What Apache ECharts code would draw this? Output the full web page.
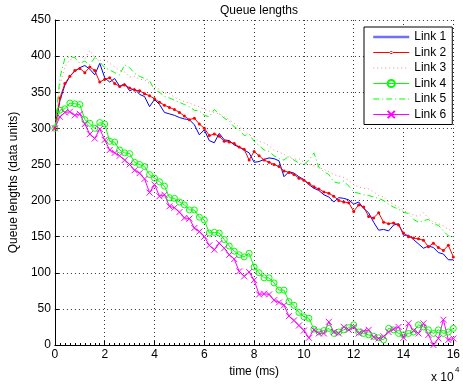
<!DOCTYPE html>
<html><head><meta charset="utf-8">
<script src="https://cdn.jsdelivr.net/npm/echarts@6/dist/echarts.min.js"></script>
<style>html,body{margin:0;padding:0;background:#fff}#c{width:463px;height:387px}</style>
</head><body><div id="c"></div>
<script>
const times = [0,2000,4000,6000,8000,10000,12000,14000,16000,18000,20000,22000,24000,26000,28000,30000,32000,34000,36000,38000,40000,42000,44000,46000,48000,50000,52000,54000,56000,58000,60000,62000,64000,66000,68000,70000,72000,74000,76000,78000,80000,82000,84000,86000,88000,90000,92000,94000,96000,98000,100000,102000,104000,106000,108000,110000,112000,114000,116000,118000,120000,122000,124000,126000,128000,130000,132000,134000,136000,138000,140000,142000,144000,146000,148000,150000,152000,154000,156000,158000,160000];
const link1 = [300,338,360,372,379,384,387,382,374,390,370,364,369,358,362,352,355,347,344,330,340,333,322,320,318,315,313,312,305,291,298,283,280,293,284,283,277,274,270,266,253,254,257,259,258,255,233,240,238,233,229,222,217,214,208,205,198,204,203,201,195,198,189,183,170,159,160,158,166,168,152,152,146,140,134,137,135,128,126,118,118];
const link2 = [300,342,362,372,380,383,377,385,380,364,368,370,362,358,360,356,353,352,348,345,341,336,332,329,326,322,317,312,314,306,300,290,292,289,282,281,279,274,271,256,268,262,256,253,250,247,241,239,236,231,228,224,219,216,212,210,206,200,198,197,185,194,191,178,176,183,170,168,169,166,155,150,148,147,145,136,141,135,131,138,122];
const link3 = [300,360,385,395,398,400,396,408,398,394,395,390,385,380,378,371,372,368,367,362,358,354,349,348,343,340,337,335,332,330,326,324,322,320,316,312,307,302,296,291,288,282,280,276,270,267,264,260,257,258,253,250,248,246,243,240,236,234,232,228,222,219,217,216,212,207,205,198,195,191,186,183,180,178,183,176,170,168,165,160,158];
const link4 = [300,325,327,335,334,333,312,307,300,308,306,282,281,270,266,265,253,250,247,236,231,226,220,204,203,198,194,187,187,177,173,155,156,155,146,137,130,125,122,127,108,100,93,93,86,76,76,60,55,45,39,37,22,18,20,23,16,18,21,24,28,18,16,14,12,10,7,23,21,16,14,16,18,28,25,21,16,21,16,18,23];
const link5 = [300,370,397,399,398,390,393,388,398,392,384,381,377,374,388,384,376,372,369,366,353,350,344,342,339,336,333,330,325,324,318,316,326,320,314,310,302,298,290,292,282,276,270,268,262,258,256,262,256,252,250,256,266,246,240,236,226,224,227,220,212,210,208,207,205,203,200,195,191,188,184,182,174,170,172,174,167,166,158,151,150];
const link6 = [300,316,322,323,318,320,306,292,286,299,284,270,266,262,256,250,242,238,230,211,222,206,208,192,190,184,176,175,162,157,150,138,132,141,134,125,119,102,95,101,90,70,71,70,62,59,55,40,34,27,20,10,21,16,16,32,18,16,25,21,25,16,19,21,11,9,12,18,22,25,10,30,20,16,30,14,0,9,35,7,9];
const seriesNames = ['Link 1','Link 2','Link 3','Link 4','Link 5','Link 6'];
const xTicks = [0,2,4,6,8,10,12,14,16];
const yTicks = [0,50,100,150,200,250,300,350,400,450];

const FONT = 'Liberation Sans, Arial, sans-serif';
function pair(vals){ return times.map((t,i)=>[t, vals[i]]); }
const chart = echarts.init(document.getElementById('c'), null, {renderer:'canvas'});
const XPATH = 'path://M0,0L10,10M10,0L0,10';
const DOTLINE = 'path://M0,0M36,9M0,4L36,4L36,5L0,5ZM16.5,4.5a1.5,1.5 0 1,0 3,0a1.5,1.5 0 1,0 -3,0Z';
const hide = {opacity:0};
chart.setOption({
  animation:false,
  backgroundColor:'#fff',
  title:{text:'Queue lengths', left:254, top:0, textAlign:'center',
    textStyle:{fontFamily:FONT,fontSize:12,fontWeight:'normal',color:'#000'}},
  grid:{left:48, top:20, right:2, bottom:42, containLabel:false},
  legend:{
    orient:'vertical', left:364, top:27, padding:[4,6,4,8],
    itemWidth:36, itemHeight:9, itemGap:3.5,
    borderColor:'#000', borderWidth:1, backgroundColor:'#fff',
    textStyle:{fontFamily:FONT,fontSize:12,color:'#000'},
    data:[
      {name:seriesNames[0], itemStyle:hide, lineStyle:{width:2.5,color:'#6f6fff'}},
      {name:seriesNames[1], icon:DOTLINE, itemStyle:{color:'#ff0000'}},
      {name:seriesNames[2], itemStyle:hide, lineStyle:{width:1}},
      {name:seriesNames[3], lineStyle:{width:1}},
      {name:seriesNames[4], itemStyle:hide, lineStyle:{width:1}},
      {name:seriesNames[5], lineStyle:{width:1}}
    ]
  },
  xAxis:{
    type:'value', min:0, max:160000, interval:20000,
    name:'time (ms)', nameLocation:'middle', nameGap:21,
    nameTextStyle:{fontFamily:FONT,fontSize:12,color:'#000'},
    axisLine:{lineStyle:{color:'#000',width:1}},
    axisTick:{inside:true,length:4,lineStyle:{color:'#000'}},
    minorTick:{show:true,splitNumber:10,length:2,lineStyle:{color:'#000'}},
    axisLabel:{fontFamily:FONT,fontSize:12,color:'#000',margin:4,
      formatter:v=>String(xTicks[Math.round(v/20000)])},
    splitLine:{show:true,lineStyle:{color:'#333',width:1,type:[1,3]}}
  },
  yAxis:{
    type:'value', min:0, max:450, interval:50,
    name:'Queue lengths (data units)', nameLocation:'middle', nameGap:33,
    nameTextStyle:{fontFamily:FONT,fontSize:12,color:'#000'},
    axisLine:{show:true,lineStyle:{color:'#000',width:1}},
    axisTick:{show:true,inside:true,length:4,lineStyle:{color:'#000'}},
    axisLabel:{fontFamily:FONT,fontSize:12,color:'#000',margin:4,
      formatter:v=>String(yTicks[Math.round(v/50)])},
    splitLine:{show:true,lineStyle:{color:'#333',width:1,type:[1,3]}}
  },
  graphic:[
    {type:'text', left:431, top:372, style:{text:'x 10', fontFamily:FONT, fontSize:12, fill:'#000'}},
    {type:'text', left:455, top:366, style:{text:'4', fontFamily:FONT, fontSize:8, fill:'#000'}}
  ],
  series:[
    {name:'Link 1', type:'line', data:pair(link1), symbol:'none', lineStyle:{color:'#0000ff',width:1}, itemStyle:{color:'#0000ff'}},
    {name:'Link 2', type:'line', data:pair(link2), symbol:'circle', symbolSize:3, showAllSymbol:true,
      lineStyle:{color:'#ff0000',width:1}, itemStyle:{color:'#ff0000',borderWidth:0}},
    {name:'Link 3', type:'line', data:pair(link3), symbol:'none', lineStyle:{color:'#ff8080',width:1,type:[1,3]}, itemStyle:{color:'#ff8080'}},
    {name:'Link 4', type:'line', data:pair(link4), symbol:'circle', symbolSize:6, showAllSymbol:true,
      lineStyle:{color:'#00ff00',width:1}, itemStyle:{color:'rgba(0,0,0,0)',borderColor:'#00ff00',borderWidth:1}},
    {name:'Link 5', type:'line', data:pair(link5), symbol:'none', lineStyle:{color:'#00ff00',width:1,type:[6,3,1,3]}, itemStyle:{color:'#00ff00'}},
    {name:'Link 6', type:'line', data:pair(link6), symbol:XPATH, symbolSize:6, showAllSymbol:true,
      lineStyle:{color:'#ff00ff',width:1}, itemStyle:{color:'rgba(0,0,0,0)',borderColor:'#ff00ff',borderWidth:1}}
  ]
});
</script></body></html>
